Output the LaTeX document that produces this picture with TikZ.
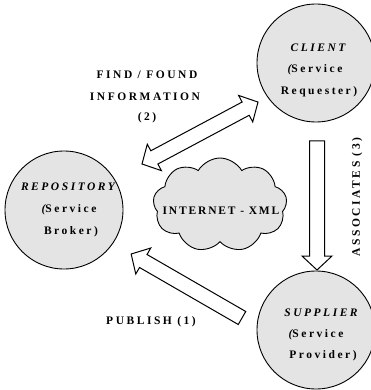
\documentclass[tikz,border=0pt]{standalone}
\usepackage{fontspec}
\setmainfont{Liberation Serif}
\usetikzlibrary{shapes.symbols}
\definecolor{roleFill}{HTML}{E4E4E4}
\newcommand{\spaced}{\addfontfeature{LetterSpace=22}}
\newcommand{\lblfont}{\fontsize{11.5}{13}\selectfont\bfseries\spaced}
\tikzset{
  role/.style={circle, draw, line width=0.9pt, fill=roleFill, minimum size=118pt, inner sep=0pt},
  lbl/.style={font=\lblfont, inner sep=0pt, align=center},
  title/.style={lbl, font=\lblfont\itshape},
  arrowbox/.style={draw, line width=1pt, fill=white, line join=miter},
  pics/singlearrow/.style={code={
    \draw[arrowbox] (0,-7.5) -- (#1-14,-7.5) -- (#1-14,-15) -- (#1,0)
      -- (#1-14,15) -- (#1-14,7.5) -- (0,7.5) -- cycle;}},
  pics/doublearrow/.style={code={
    \draw[arrowbox] (0,0) -- (14,-15) -- (14,-7.5) -- (#1-14,-7.5) -- (#1-14,-15) -- (#1,0)
      -- (#1-14,15) -- (#1-14,7.5) -- (14,7.5) -- (14,15) -- cycle;}}
}
\begin{document}
\begin{tikzpicture}[x=1pt,y=-1pt]
\useasboundingbox[fill=white] (0,0) rectangle (370,390);

% the three roles
\node[role] (repo) at (64,210) {};
\node[role] (client) at (316,63) {};
\node[role] (supplier) at (316,330) {};

\node[title] (repoT) at (68,187) {REPOSITORY};
\node[lbl] (repoS) at (69,210) {{\itshape(}Service};
\node[lbl] (repoB) at (71,232) {Broker)};

\node[title] (clientT) at (318,48) {CLIENT};
\node[lbl] (clientS) at (315,70) {{\itshape(}Service};
\node[lbl] (clientR) at (319,92) {Requester)};

\node[title] (supT) at (321,313) {SUPPLIER};
\node[lbl] (supS) at (316,335) {{\itshape(}Service};
\node[lbl] (supP) at (323,356) {Provider)};

% the network in the middle
\node[cloud, draw, line width=0.9pt, fill=roleFill, cloud puffs=9, cloud puff arc=120,
      minimum width=134pt, minimum height=94pt, aspect=1.5] (net) at (220,205) {};
\node[lbl, font=\fontsize{11.5}{13}\selectfont\bfseries\addfontfeature{LetterSpace=16}]
      (netT) at (221,211) {INTERNET - XML};

% block arrows between the roles
\coordinate (findL) at (142,164);
\coordinate (pubTail) at (242,318);
\coordinate (assocTop) at (317,141);
\pic[rotate=28.1] at (findL) {doublearrow=131.5};
\pic[rotate=150] at (pubTail) {singlearrow=128};
\pic[rotate=-90] at (assocTop) {singlearrow=129};

% arrow captions
\node[lbl] (find1) at (147,75) {FIND / FOUND};
\node[lbl] (find2) at (145,97) {INFORMATION};
\node[lbl] (find3) at (147,118) {(2)};
\node[lbl] (pub) at (151,322) {PUBLISH (1)};
\node[lbl, rotate=90] (assoc) at (357,197) {ASSOCIATES (3)};
\end{tikzpicture}
\end{document}
